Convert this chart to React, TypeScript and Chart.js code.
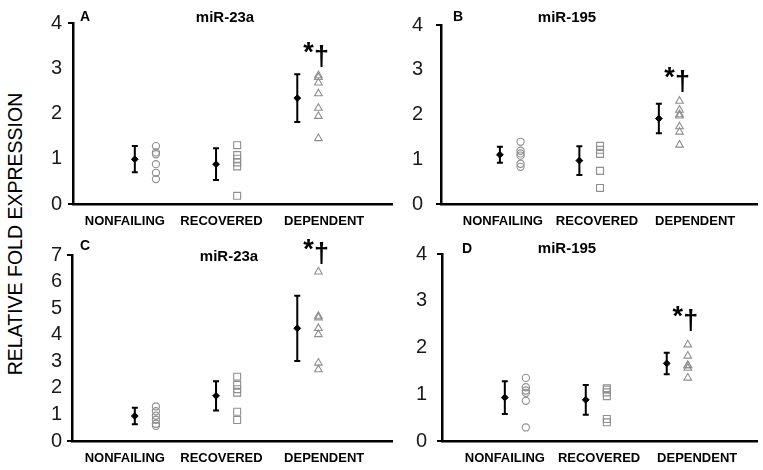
import React, { useEffect, useRef } from 'react';
import { Chart, registerables } from 'chart.js';

Chart.register(...registerables);

// ---------- DATA ----------
const GROUPS = ['NONFAILING', 'RECOVERED', 'DEPENDENT'];
const Y_TITLE = 'RELATIVE FOLD EXPRESSION';

// Panel A – miR-23a
const A_MEAN = [0.99, 0.88, 2.34];
const A_SD = [0.29, 0.35, 0.53];
const A_NONFAILING = [1.28, 1.14, 1.1, 0.88, 0.69, 0.55];
const A_RECOVERED = [1.3, 1.08, 1.0, 0.92, 0.83, 0.18];
const A_DEPENDENT = [2.84, 2.8, 2.68, 2.44, 2.12, 1.94, 1.45];

// Panel B – miR-195
const B_MEAN = [1.1, 0.97, 1.91];
const B_SD = [0.18, 0.32, 0.33];
const B_NONFAILING = [1.39, 1.19, 1.13, 1.08, 0.9, 0.83];
const B_RECOVERED = [1.3, 1.21, 1.12, 0.74, 0.36];
const B_DEPENDENT = [2.3, 2.1, 2.0, 1.97, 1.73, 1.61, 1.32];

// Panel C – miR-23a
const C_MEAN = [0.94, 1.7, 4.24];
const C_SD = [0.31, 0.55, 1.23];
const C_NONFAILING = [1.3, 1.12, 0.95, 0.8, 0.65, 0.57];
const C_RECOVERED = [2.42, 2.11, 1.95, 1.82, 1.1, 0.79];
const C_DEPENDENT = [6.37, 4.7, 4.64, 4.24, 4.01, 2.94, 2.69];

// Panel D – miR-195
const D_MEAN = [0.93, 0.88, 1.66];
const D_SD = [0.35, 0.32, 0.23];
const D_NONFAILING = [1.35, 1.15, 1.08, 1.03, 0.86, 0.29];
const D_RECOVERED = [1.13, 1.1, 1.04, 0.96, 0.47, 0.4];
const D_DEPENDENT = [2.06, 1.82, 1.62, 1.61, 1.56, 1.35];

const Y_MAX_A = 4;
const Y_MAX_B = 4;
const Y_MAX_C = 7;
const Y_MAX_D = 4;

// ---------- LAYOUT ----------
const FONT = '"Liberation Sans", Arial, Helvetica, sans-serif';
const PT_OFFSET = 0.26;
const GRAY = '#8f8f8f';

type Panel = {
  letter: string;
  title: string;
  mean: number[];
  sd: number[];
  pts: number[][];
  yMax: number;
  sigY: number;
  box: { left: number; top: number; width: number; height: number };
  padTop: number;
  padRight: number;
  yWidth: number;
  xHeight: number;
  yPad: number;
  xMin: number;
  xMax: number;
  labelAt: number[];
  letterPos: [number, number];
  titlePos: [number, number];
};

const PANELS: Panel[] = [
  {
    letter: 'A', title: 'miR-23a', mean: A_MEAN, sd: A_SD,
    pts: [A_NONFAILING, A_RECOVERED, A_DEPENDENT], yMax: Y_MAX_A, sigY: 3.29,
    box: { left: 28, top: 0, width: 370, height: 232 },
    padTop: 23, padRight: 5, yWidth: 45, xHeight: 28, yPad: 6,
    xMin: -0.761, xMax: 3.166, labelAt: [-0.123, 1.067, 2.331],
    letterPos: [80, 17.5], titlePos: [225, 17.5],
  },
  {
    letter: 'B', title: 'miR-195', mean: B_MEAN, sd: B_SD,
    pts: [B_NONFAILING, B_RECOVERED, B_DEPENDENT], yMax: Y_MAX_B, sigY: 2.76,
    box: { left: 398, top: 0, width: 365, height: 232 },
    padTop: 23, padRight: 0, yWidth: 43, xHeight: 28, yPad: 13,
    xMin: -0.741, xMax: 3.235, labelAt: [0.037, 1.222, 2.457],
    letterPos: [453, 17.5], titlePos: [567, 17.5],
  },
  {
    letter: 'C', title: 'miR-23a', mean: C_MEAN, sd: C_SD,
    pts: [C_NONFAILING, C_RECOVERED, C_DEPENDENT], yMax: Y_MAX_C, sigY: 7.1,
    box: { left: 28, top: 232, width: 370, height: 238 },
    padTop: 23, padRight: 5, yWidth: 44, xHeight: 29, yPad: 5,
    xMin: -0.773, xMax: 3.166, labelAt: [-0.123, 1.067, 2.331],
    letterPos: [80, 246], titlePos: [229, 257],
  },
  {
    letter: 'D', title: 'miR-195', mean: D_MEAN, sd: D_SD,
    pts: [D_NONFAILING, D_RECOVERED, D_DEPENDENT], yMax: Y_MAX_D, sigY: 2.6,
    box: { left: 398, top: 232, width: 365, height: 238 },
    padTop: 18, padRight: 0, yWidth: 44, xHeight: 29, yPad: 10,
    xMin: -0.776, xMax: 3.115, labelAt: [0.0, 1.164, 2.376],
    letterPos: [462, 249], titlePos: [567, 249],
  },
];

function PanelChart({ p }: { p: Panel }) {
  const ref = useRef<HTMLCanvasElement | null>(null);

  useEffect(() => {
    if (!ref.current) return;

    const errorBars = {
      id: 'errorBars',
      afterDatasetsDraw(chart: any) {
        const xs = chart.scales.x;
        const ys = chart.scales.y;
        const ctx = chart.ctx;
        ctx.save();
        ctx.strokeStyle = '#000';
        ctx.lineWidth = 2;
        p.mean.forEach((m, i) => {
          const x = xs.getPixelForValue(i);
          const y1 = ys.getPixelForValue(m + p.sd[i]);
          const y2 = ys.getPixelForValue(m - p.sd[i]);
          ctx.beginPath();
          ctx.moveTo(x, y1);
          ctx.lineTo(x, y2);
          ctx.moveTo(x - 3, y1);
          ctx.lineTo(x + 3, y1);
          ctx.moveTo(x - 3, y2);
          ctx.lineTo(x + 3, y2);
          ctx.stroke();
        });
        ctx.restore();
      },
    };

    const labels = {
      id: 'panelLabels',
      afterDraw(chart: any) {
        const ctx = chart.ctx;
        const xs = chart.scales.x;
        const ys = chart.scales.y;
        ctx.save();
        ctx.fillStyle = '#000';
        ctx.textBaseline = 'middle';
        ctx.font = `bold 14px ${FONT}`;
        ctx.textAlign = 'left';
        ctx.fillText(p.letter, p.letterPos[0] - p.box.left, p.letterPos[1] - p.box.top);
        ctx.font = `bold 15px ${FONT}`;
        ctx.textAlign = 'center';
        ctx.fillText(p.title, p.titlePos[0] - p.box.left, p.titlePos[1] - p.box.top);
        // significance marks
        const dx = xs.getPixelForValue(2 + PT_OFFSET);
        const dy = ys.getPixelForValue(p.sigY);
        ctx.font = `bold 27px ${FONT}`;
        ctx.fillText('\u2020', dx + 3, dy + 2);
        ctx.font = `bold 27px ${FONT}`;
        ctx.fillText('*', dx - 10, dy - 2);
        ctx.restore();
      },
    };

    const shapes = ['circle', 'rect', 'triangle'];
    const radii = [3.6, 4.9, 4.4];

    const datasets: any[] = p.pts.map((arr, gi) => ({
      label: GROUPS[gi],
      data: arr.map((v) => ({ x: gi + PT_OFFSET, y: v })),
      pointStyle: shapes[gi],
      pointRadius: radii[gi],
      borderColor: GRAY,
      backgroundColor: 'rgba(0,0,0,0)',
      borderWidth: 1.1,
      showLine: false,
    }));
    datasets.push({
      label: 'mean',
      data: p.mean.map((v, i) => ({ x: i, y: v })),
      pointStyle: 'rectRot',
      pointRadius: 3.4,
      backgroundColor: '#000',
      borderColor: '#000',
      borderWidth: 1,
      showLine: false,
    });

    const chart = new Chart(ref.current, {
      type: 'scatter',
      data: { datasets },
      options: {
        animation: false,
        responsive: false,
        devicePixelRatio: 1,
        layout: { padding: { left: 0, right: p.padRight, top: p.padTop, bottom: 0 } },
        plugins: {
          legend: { display: false },
          tooltip: { enabled: false },
          title: { display: false },
        },
        scales: {
          x: {
            type: 'linear',
            min: p.xMin,
            max: p.xMax,
            grid: { display: false, drawTicks: false },
            border: { display: true, color: '#000', width: 2.5 },
            ticks: {
              padding: 10,
              color: '#000',
              font: { family: FONT, size: 13, weight: 'bold' },
              maxRotation: 0,
              autoSkip: false,
              callback: (_v: any, i: number) => GROUPS[i],
            },
            afterBuildTicks: (s: any) => {
              s.ticks = p.labelAt.map((v) => ({ value: v }));
            },
            afterFit: (s: any) => {
              s.height = p.xHeight;
            },
          },
          y: {
            type: 'linear',
            min: 0,
            max: p.yMax,
            ticks: {
              stepSize: 1,
              autoSkip: false,
              padding: p.yPad,
              color: '#1a1a1a',
              font: { family: FONT, size: 20 },
            },
            grid: {
              drawOnChartArea: false,
              drawTicks: true,
              tickLength: 5,
              lineWidth: 2,
              color: (c: any) =>
                c.tick && (c.tick.value === 0 || c.tick.value === p.yMax) ? '#000' : 'rgba(0,0,0,0)',
            },
            border: { display: true, color: '#000', width: 2.5 },
            afterFit: (s: any) => {
              s.width = p.yWidth;
            },
          },
        },
      } as any,
      plugins: [errorBars, labels],
    });
    return () => chart.destroy();
  }, [p]);

  return (
    <canvas
      ref={ref}
      width={p.box.width}
      height={p.box.height}
      style={{
        position: 'absolute',
        left: p.box.left,
        top: p.box.top,
        width: p.box.width,
        height: p.box.height,
      }}
    />
  );
}

export default function App() {
  return (
    <div
      style={{
        position: 'absolute',
        left: 0,
        top: 0,
        width: 763,
        height: 470,
        background: '#fff',
        overflow: 'hidden',
      }}
    >
      {PANELS.map((p) => (
        <PanelChart key={p.letter} p={p} />
      ))}
      <div
        style={{
          position: 'absolute',
          left: 15,
          top: 234,
          transform: 'translate(-50%, -50%) rotate(-90deg)',
          whiteSpace: 'nowrap',
          font: `19.5px ${FONT}`,
          color: '#000',
        }}
      >
        {Y_TITLE}
      </div>
    </div>
  );
}
